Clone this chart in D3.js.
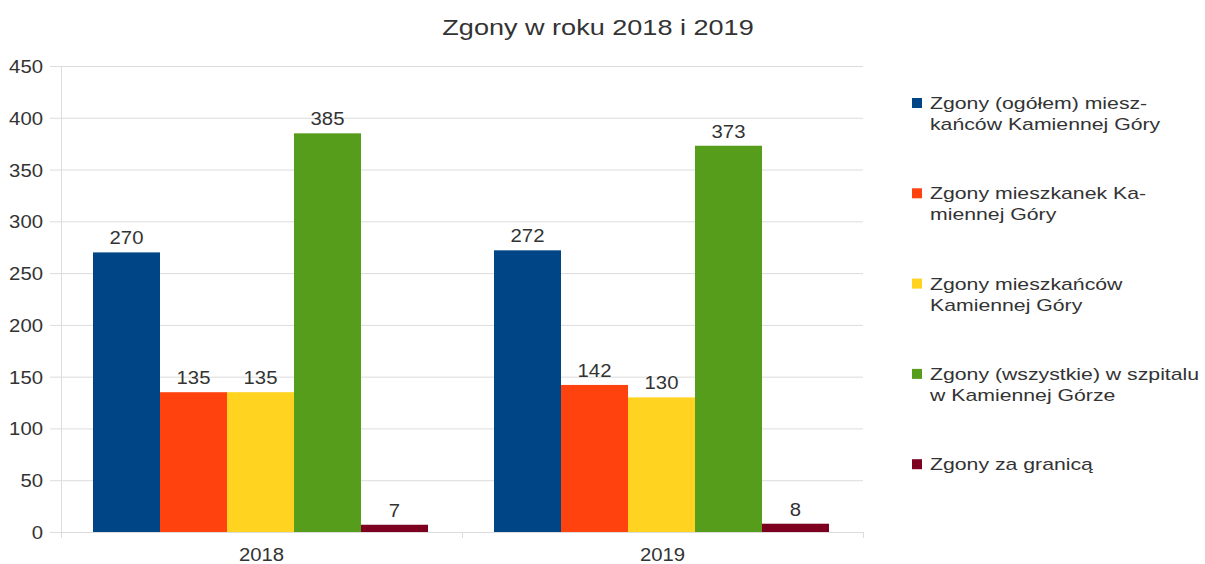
<!DOCTYPE html>
<html>
<head>
<meta charset="utf-8">
<script src="https://cdn.jsdelivr.net/npm/d3@7"></script>
<style>
  body { margin: 0; background: #fff; }
  svg text { font-family: "Liberation Sans", Arial, sans-serif; fill: #333; }
  .grid line { stroke: #dcdcdc; }
</style>
</head>
<body>
<div class="chart"></div>
<script>
"use strict";
var years = ["2018", "2019"];
var seriesNames = [
  ["Zgony (ogółem) miesz-", "kańców Kamiennej Góry"],
  ["Zgony mieszkanek Ka-", "miennej Góry"],
  ["Zgony mieszkańców", "Kamiennej Góry"],
  ["Zgony (wszystkie) w szpitalu", "w Kamiennej Górze"],
  ["Zgony za granicą"]
];
var seriesColors = ["#004586", "#ff420e", "#ffd320", "#579d1c", "#7e0021"];
var values2018 = [270, 135, 135, 385, 7];
var values2019 = [272, 142, 130, 373, 8];
var yTicks = [0, 50, 100, 150, 200, 250, 300, 350, 400, 450];

var W = 1205, H = 564;
var margin = {top: 66, right: 342, bottom: 32, left: 61},
    width = W - margin.left - margin.right,
    height = H - margin.top - margin.bottom;

// text in the reference is a little wider than the font, so stretch it
var numStretch = 1.07, legendStretch = 1.25, titleStretch = 1.23;

var data = years.map(function(y, i){
  return {year: y, values: [values2018, values2019][i]};
});

var svg = d3.select(".chart").append("svg")
    .attr("width", W).attr("height", H);

function place(x, y, sx){
  return "translate(" + x + "," + y + ") scale(" + sx + ",1)";
}

// title
svg.append("text")
  .attr("transform", place(598, 35, titleStretch))
  .attr("text-anchor", "middle")
  .style("font-size", "22px")
  .text("Zgony w roku 2018 i 2019");

var g = svg.append("g")
  .attr("transform", "translate(" + margin.left + "," + margin.top + ")");

var x0 = d3.scaleBand().domain(years).range([0, width]).paddingInner(0).paddingOuter(0);
var x1 = d3.scaleBand().domain(d3.range(5)).range([32, x0.bandwidth() - 34]).padding(0);
var y = d3.scaleLinear().domain([0, 450]).range([height, 0]);

// grid
g.append("g").attr("class", "grid")
  .selectAll("line").data(yTicks).enter().append("line")
  .attr("x1", -11).attr("x2", width)
  .attr("y1", function(d){ return y(d) + 0.5; })
  .attr("y2", function(d){ return y(d) + 0.5; });

// vertical axis line
g.append("line")
  .attr("x1", 0.5).attr("x2", 0.5)
  .attr("y1", 0).attr("y2", height + 6)
  .style("stroke", "#dcdcdc");

// x tick marks at band edges
g.append("g").selectAll("line").data([0, 1, 2]).enter().append("line")
  .attr("x1", function(d){ return Math.round(d * x0.step()) + 0.5; })
  .attr("x2", function(d){ return Math.round(d * x0.step()) + 0.5; })
  .attr("y1", height).attr("y2", height + 6)
  .style("stroke", "#dcdcdc");

// y labels
g.append("g").selectAll("text").data(yTicks).enter().append("text")
  .attr("transform", function(d){ return place(-18, y(d) + 7, numStretch); })
  .attr("text-anchor", "end")
  .style("font-size", "19px")
  .text(function(d){ return d; });

// x labels
g.append("g").selectAll("text").data(years).enter().append("text")
  .attr("transform", function(d){ return place(x0(d) + x0.bandwidth() / 2, height + 29, numStretch); })
  .attr("text-anchor", "middle")
  .style("font-size", "19px")
  .text(function(d){ return d; });

// bars
var groups = g.selectAll(".yearGroup").data(data).enter().append("g")
  .attr("class", "yearGroup")
  .attr("transform", function(d){ return "translate(" + x0(d.year) + ",0)"; });

groups.selectAll("rect").data(function(d){ return d.values; }).enter().append("rect")
  .attr("x", function(d, i){ return x1(i); })
  .attr("width", x1.bandwidth())
  .attr("y", function(d){ return y(d); })
  .attr("height", function(d){ return y(0) - y(d); })
  .style("fill", function(d, i){ return seriesColors[i]; });

groups.selectAll(".barLbl").data(function(d){ return d.values; }).enter().append("text")
  .attr("class", "barLbl")
  .attr("transform", function(d, i){ return place(x1(i) + x1.bandwidth() / 2, y(d) - 8, numStretch); })
  .attr("text-anchor", "middle")
  .style("font-size", "19px")
  .text(function(d){ return d; });

// legend
var legend = svg.append("g").attr("transform", "translate(912,0)");
var legendItems = legend.selectAll("g").data(seriesNames).enter().append("g")
  .attr("transform", function(d, i){ return "translate(0," + (109 + i * 90.3) + ")"; });
legendItems.append("rect")
  .attr("x", 0).attr("y", -11).attr("width", 10).attr("height", 10)
  .style("fill", function(d, i){ return seriesColors[i]; });
legendItems.each(function(d){
  var t = d3.select(this).append("text")
    .attr("transform", place(18, 0, legendStretch))
    .style("font-size", "17px");
  d.forEach(function(line, j){
    t.append("tspan").attr("x", 0).attr("y", j * 21).text(line);
  });
});
</script>
</body>
</html>
